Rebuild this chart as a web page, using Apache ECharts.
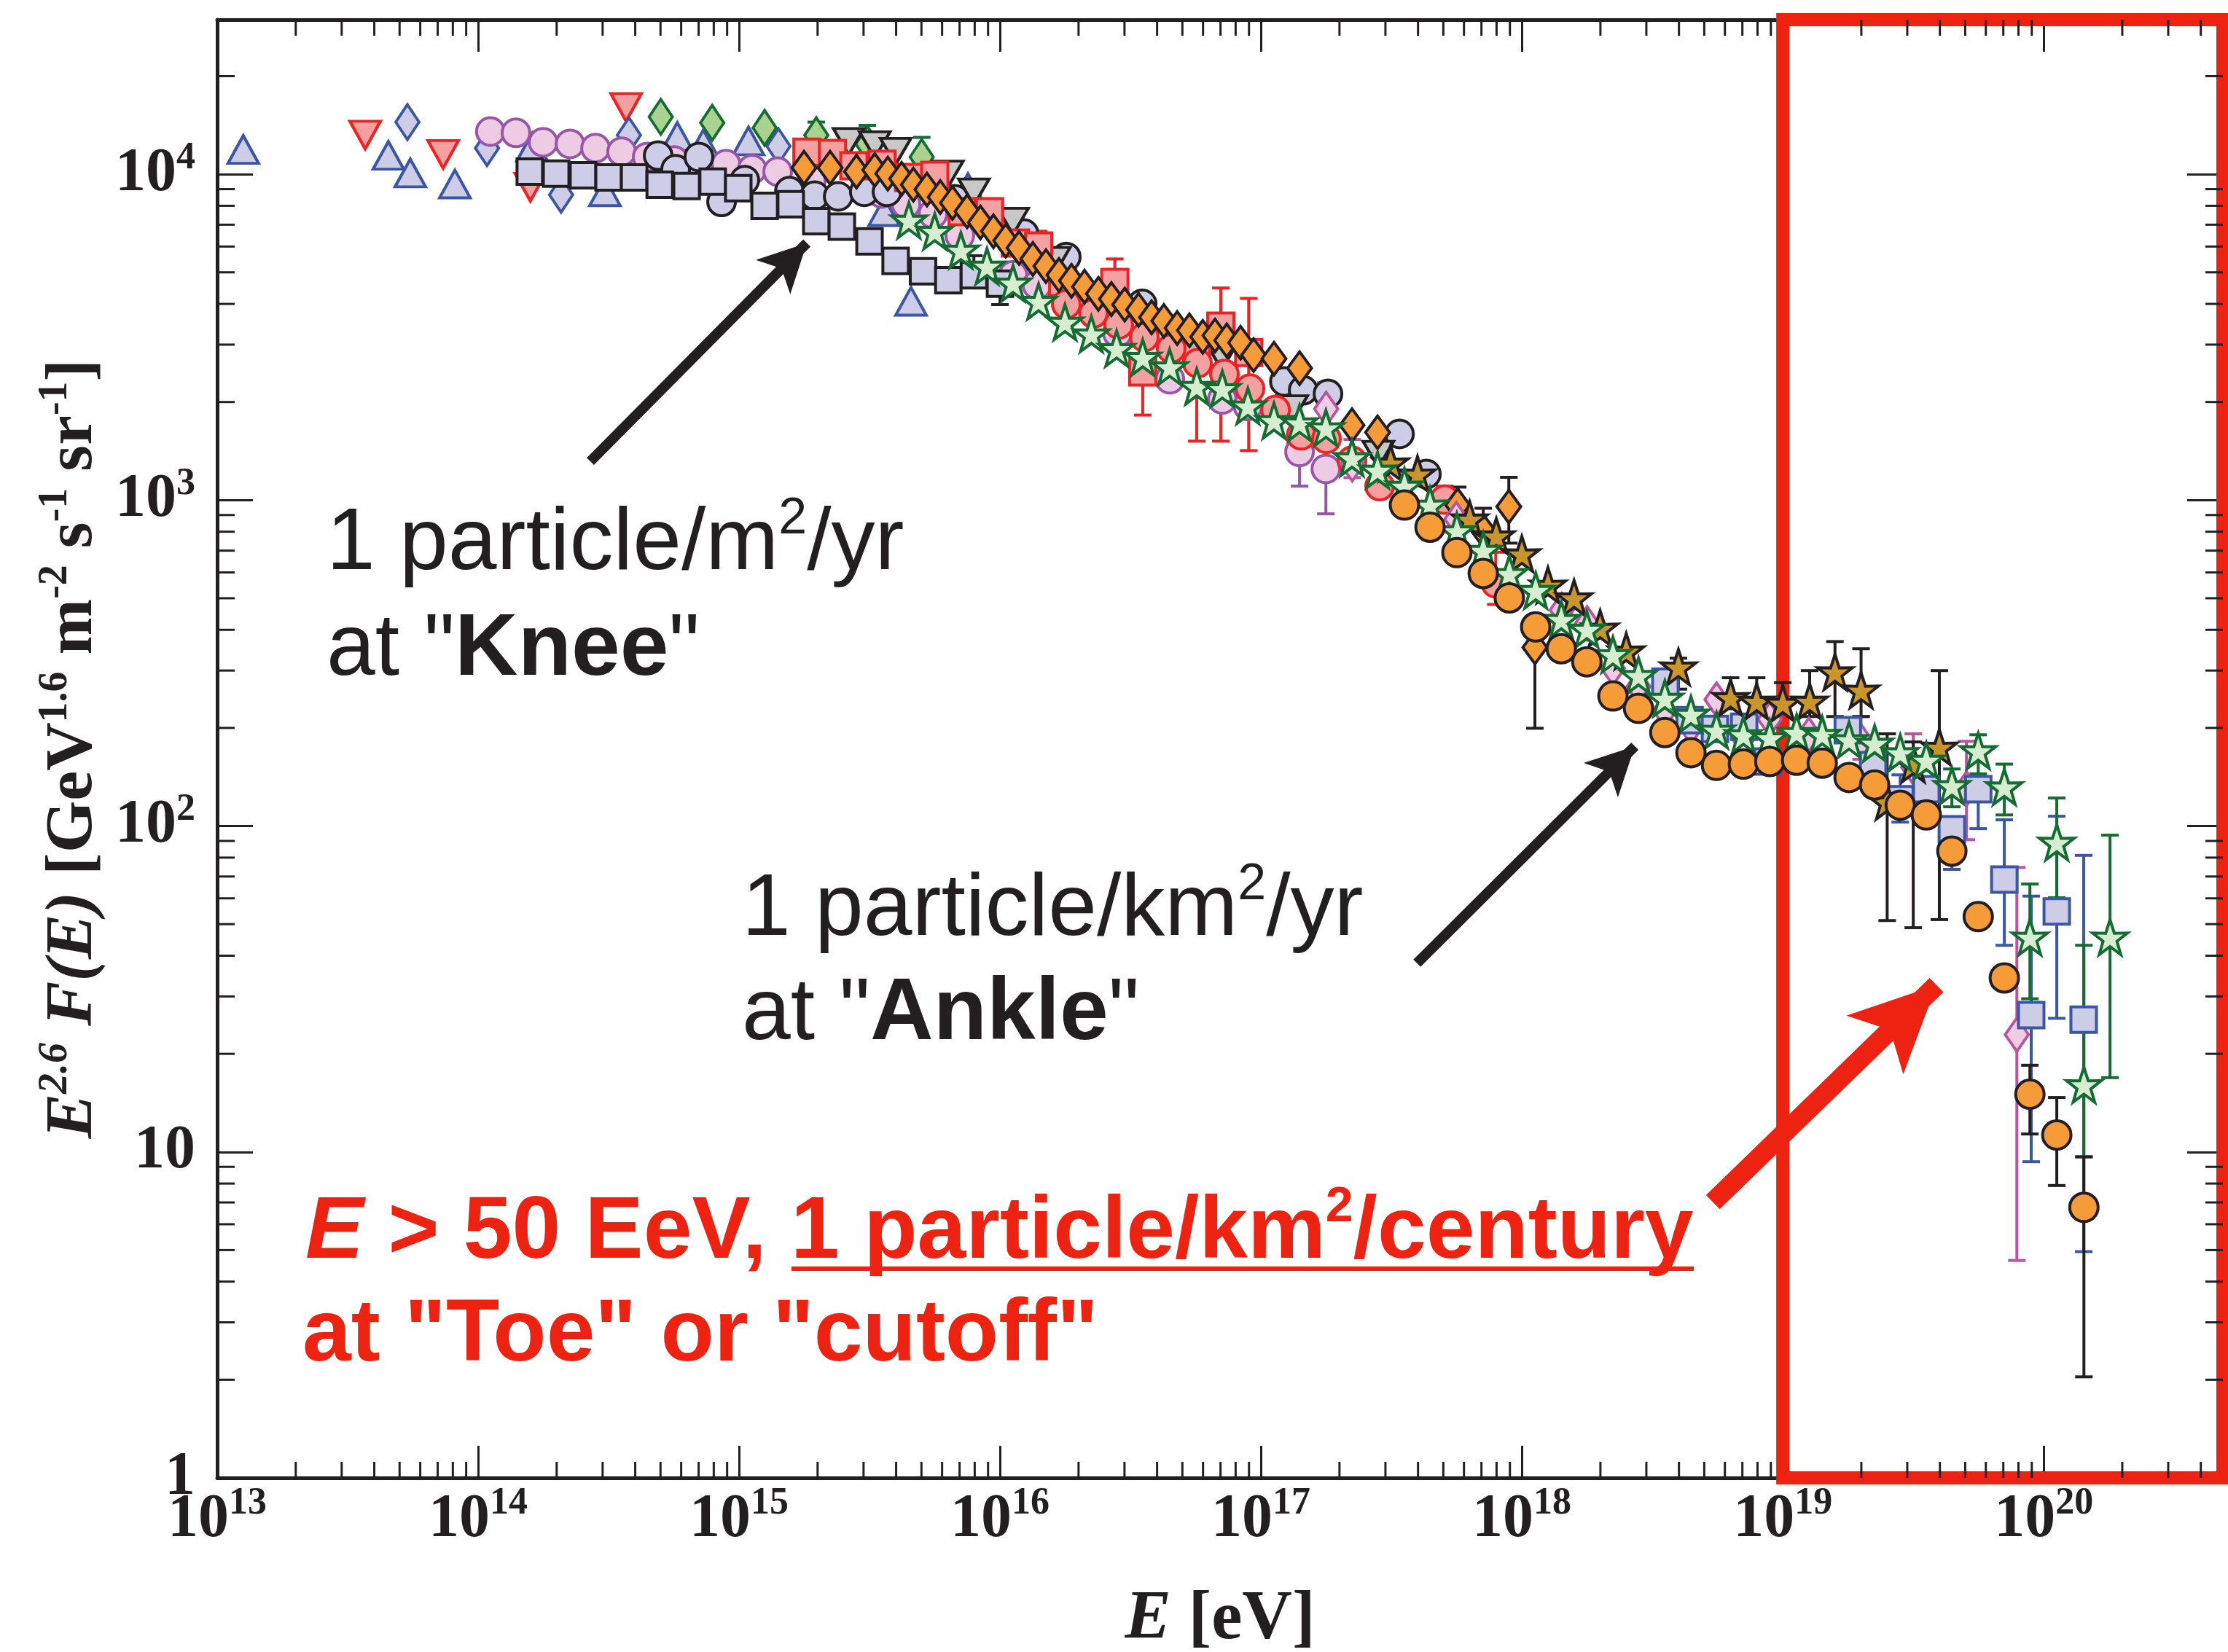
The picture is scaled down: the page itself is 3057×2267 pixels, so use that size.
<!DOCTYPE html>
<html>
<head>
<meta charset="utf-8">
<title>Cosmic ray energy spectrum</title>
<script src="https://cdn.jsdelivr.net/npm/echarts@6.0.0/dist/echarts.min.js"></script>
<style>
html, body { margin: 0; padding: 0; background: #fff; }
#chart { width: 3057px; height: 2267px; }
</style>
</head>
<body>
<div id="chart"></div>
<script>
// axis ranges and tick decades
const xMin = 1e13, xMax = 4.86e20, yMin = 1, yMax = 2.98e4;
const xDecades = [13, 14, 15, 16, 17, 18, 19, 20];
const yDecades = [0, 1, 2, 3, 4];
const minorMult = [2, 3, 4, 5, 6, 7, 8, 9];

// points: [log10 E(eV), log10 E^2.6 F(E)]
const triUpBlue = [[13.10, 4.076], [13.656, 4.058], [13.740, 4.004], [13.911, 3.970], [14.207, 4.083], [14.486, 3.946],
  [14.763, 4.116], [14.863, 4.093], [15.036, 4.102], [15.556, 3.885], [15.659, 3.610], [15.877, 3.959]];
const triDownRed = [[13.567, 4.12], [13.866, 4.061], [14.20, 3.96], [14.567, 4.205]];
const diamondBlue = [[13.729, 4.160], [14.034, 4.080], [14.318, 3.937], [14.578, 4.120], [15.151, 4.086]];
const circlePink = [[14.047, 4.131], [14.145, 4.127], [14.249, 4.098], [14.352, 4.093], [14.450, 4.080], [14.550, 4.069],
  [14.648, 4.053], [14.751, 4.042], [14.85, 4.035], [14.95, 4.031], [15.050, 4.015], [15.148, 4.008], [15.277, 3.981],
  [15.547, 3.941], [15.64, 3.908], [15.743, 3.878], [15.846, 3.812], [16.05, 3.69], [16.142, 3.66], [16.45, 3.512],
  [16.651, 3.371], [16.852, 3.309], [16.95, 3.289], [17.148, 3.148], [17.249, 3.096]];
const circlePinkErr = [[17.148, 3.043, 3.20], [17.249, 2.958, 3.36]];
const circleLav = [[14.69, 4.057], [14.757, 4.015], [14.846, 4.053], [14.933, 3.915], [15.022, 3.982], [15.193, 3.948],
  [15.29, 3.934], [15.38, 3.932], [15.48, 3.946], [15.567, 3.946], [15.827, 3.923], [16.092, 3.818], [16.254, 3.746],
  [16.545, 3.602], [17.09, 3.364], [17.162, 3.337], [17.257, 3.326], [17.531, 3.203], [17.634, 3.08]];
const squareLav = [[14.198, 4.008], [14.299, 4.002], [14.402, 3.997], [14.500, 3.990], [14.598, 3.990], [14.696, 3.968],
  [14.799, 3.964], [14.899, 3.977], [14.997, 3.957], [15.098, 3.903], [15.198, 3.908], [15.296, 3.856], [15.394, 3.839],
  [15.50, 3.794], [15.60, 3.734], [15.705, 3.702], [15.802, 3.675], [15.90, 3.69], [16.0, 3.664]];
const squareLavErr = [[15.90, 3.66, 3.75], [16.0, 3.60, 3.70]];
const diamondGreen = [[14.70, 4.176], [14.897, 4.158], [15.098, 4.142], [15.296, 4.12], [15.492, 4.093], [15.70, 4.053]];
const diamondGreenErr = [[15.296, 4.12, 4.16], [15.492, 4.093, 4.15], [15.70, 4.053, 4.113]];
const triDownGray = [[15.42, 4.10], [15.52, 4.09], [15.60, 4.07], [15.80, 4.00], [15.90, 3.945], [16.05, 3.855],
  [16.21, 3.735], [16.85, 3.44], [17.12, 3.28], [17.45, 3.14]];
const squareRed = [[15.26, 4.068], [15.358, 4.064], [15.44, 4.026], [15.548, 4.031], [15.65, 3.99], [15.75, 3.997],
  [15.855, 3.885], [15.96, 3.885], [16.059, 3.789], [16.148, 3.78], [16.24, 3.668], [16.44, 3.668], [16.547, 3.393],
  [16.754, 3.46], [16.846, 3.534], [16.953, 3.453]];
const squareRedErr = [[16.148, 3.74, 3.825], [16.44, 3.49, 3.74], [16.547, 3.261, 3.5], [16.754, 3.181, 3.5],
  [16.846, 3.181, 3.651], [16.953, 3.152, 3.619]];
const circleRed = [[16.254, 3.601], [16.358, 3.573], [16.455, 3.539], [16.553, 3.50], [16.656, 3.465], [16.757, 3.42],
  [16.86, 3.387], [16.958, 3.342], [17.056, 3.277], [17.154, 3.199], [17.251, 3.188], [17.349, 3.121], [17.455, 3.043],
  [17.704, 3.002], [17.90, 2.745]];
const circleRedErr = [[17.704, 2.96, 3.043], [17.90, 2.68, 2.84]];
const diamondOrange = [[15.249, 4.020], [15.349, 4.020], [15.450, 4.008], [15.52, 4.013], [15.57, 4.002], [15.623, 3.986],
  [15.668, 3.968], [15.72, 3.953], [15.771, 3.930], [15.818, 3.912], [15.874, 3.886], [15.925, 3.852], [15.975, 3.825],
  [16.022, 3.796], [16.073, 3.774], [16.126, 3.740], [16.176, 3.718], [16.226, 3.691], [16.274, 3.673], [16.324, 3.655],
  [16.377, 3.633], [16.427, 3.617], [16.478, 3.600], [16.531, 3.584], [16.581, 3.561], [16.628, 3.550], [16.679, 3.528],
  [16.726, 3.521], [16.777, 3.501], [16.824, 3.505], [16.869, 3.490], [16.922, 3.483], [16.972, 3.445], [17.05, 3.434],
  [17.148, 3.405], [17.349, 3.230], [17.447, 3.208], [17.754, 2.985], [17.852, 2.906], [17.95, 2.98], [18.05, 2.548]];
const diamondOrangeErr = [[17.754, 2.95, 3.04], [17.852, 2.85, 2.975], [17.95, 2.868, 3.07], [18.05, 2.30, 2.634]];
const diamondPink = [[17.25, 3.28], [17.35, 3.11], [17.749, 2.942], [18.153, 2.663], [18.25, 2.622], [18.349, 2.484],
  [18.447, 2.428], [18.548, 2.354], [18.648, 2.303], [18.746, 2.388], [18.849, 2.27], [18.95, 2.328], [19.1, 2.28],
  [19.30, 2.26], [19.50, 2.18], [19.704, 2.115], [19.897, 1.36]];
const diamondPinkErr = [[17.35, 3.069, 3.186], [19.30, 2.205, 2.336], [19.50, 2.085, 2.283], [19.704, 1.958, 2.26],
  [19.897, 0.667, 1.873]];
const squareBlue = [[18.55, 2.443], [18.643, 2.325], [18.74, 2.298], [18.852, 2.305], [18.941, 2.198], [19.249, 2.294],
  [19.346, 2.187], [19.45, 2.082], [19.55, 2.113], [19.648, 1.99], [19.749, 2.113], [19.849, 1.836], [19.952, 1.42],
  [20.05, 1.738], [20.153, 1.406]];
const squareBlueErr = [[19.45, 2.012, 2.157], [19.648, 1.867, 2.023], [19.749, 1.992, 2.146], [19.849, 1.634, 2.019],
  [19.952, 0.97, 1.785], [20.05, 1.41, 2.03], [20.153, 0.694, 1.91]];
const starGold = [[17.497, 3.114], [17.60, 3.08], [17.80, 2.942], [17.902, 2.89], [18.0, 2.835], [18.10, 2.739],
  [18.20, 2.70], [18.30, 2.607], [18.40, 2.537], [18.60, 2.488], [18.80, 2.394], [18.90, 2.383], [19.0, 2.377],
  [19.103, 2.383], [19.20, 2.473], [19.30, 2.417], [19.40, 2.075], [19.50, 2.19], [19.60, 2.242]];
const starGoldErr = [[18.60, 2.42, 2.515], [18.80, 2.36, 2.455], [18.90, 2.36, 2.455], [19.0, 2.35, 2.44],
  [19.103, 2.336, 2.477], [19.20, 2.336, 2.566], [19.30, 2.336, 2.544], [19.40, 1.71, 2.283], [19.50, 1.688, 2.258],
  [19.60, 1.713, 2.477]];
const starGreen = [[15.651, 3.859], [15.75, 3.825], [15.85, 3.767], [15.95, 3.718], [16.05, 3.666], [16.148, 3.610],
  [16.249, 3.546], [16.35, 3.51], [16.447, 3.465], [16.547, 3.438], [16.65, 3.409], [16.754, 3.349], [16.852, 3.342],
  [16.95, 3.289], [17.05, 3.244], [17.148, 3.237], [17.249, 3.222], [17.349, 3.130], [17.447, 3.092], [17.55, 3.043],
  [17.648, 2.985], [17.751, 2.906], [17.852, 2.846], [17.952, 2.775], [18.053, 2.723], [18.151, 2.634], [18.249, 2.604],
  [18.349, 2.526], [18.447, 2.462], [18.548, 2.392], [18.648, 2.343], [18.746, 2.294], [18.849, 2.28], [18.95, 2.271],
  [19.053, 2.287], [19.151, 2.281], [19.254, 2.265], [19.352, 2.254], [19.45, 2.225], [19.55, 2.202], [19.648, 2.124],
  [19.749, 2.231], [19.849, 2.12], [19.947, 1.659], [20.05, 1.95], [20.154, 1.206], [20.254, 1.659]];
const starGreenErr = [[19.648, 2.059, 2.175], [19.749, 2.16, 2.28], [19.849, 2.034, 2.19], [19.947, 1.47, 1.822],
  [20.05, 1.78, 2.086], [20.154, 0.985, 1.634], [20.254, 1.228, 1.972]];
const circleOrange = [[17.55, 2.985], [17.648, 2.917], [17.751, 2.839], [17.852, 2.775], [17.952, 2.70], [18.053, 2.611],
  [18.151, 2.544], [18.249, 2.504], [18.349, 2.399], [18.447, 2.361], [18.548, 2.287], [18.648, 2.225], [18.746, 2.186],
  [18.849, 2.19], [18.95, 2.198], [19.053, 2.202], [19.151, 2.193], [19.254, 2.149], [19.352, 2.126], [19.45, 2.064],
  [19.55, 2.034], [19.648, 1.923], [19.749, 1.722], [19.849, 1.534], [19.947, 1.177], [20.05, 1.052], [20.154, 0.83]];
const circleOrangeErr = [[19.849, 1.51, 1.56], [19.947, 1.055, 1.266], [20.05, 0.897, 1.167], [20.154, 0.31, 0.985]];

// annotation arrows: [tail, tip] in log10 units
const arrowKnee = [[14.430, 3.119], [15.260, 3.789]];
const arrowAnkle = [[17.598, 1.579], [18.433, 2.245]];
const arrowToe = [[18.732, 0.846], [19.589, 1.512]];

const ink = '#231f20';
const red = '#ee2211';
const serif = 'Liberation Serif';
const sans = 'Liberation Sans';
const star = 'path://M50,0 L61.8,35.1 L97.6,34.5 L68.8,56 L79.4,90.5 L50,69.5 L20.6,90.5 L31.2,56 L2.4,34.5 L38.2,35.1 Z';

const toPts = arr => arr.map(p => [10 ** p[0], 10 ** p[1]]);
const toErr = arr => arr.map(p => [10 ** p[0], 10 ** p[1], 10 ** p[2]]);
const toCoord = p => [10 ** p[0], 10 ** p[1]];

function marks (name, data, symbol, size, fill, edge, rotate) {
  return {
    name: name,
    type: 'scatter',
    data: toPts(data),
    symbol: symbol,
    symbolSize: size,
    symbolRotate: rotate || 0,
    itemStyle: { color: fill, borderColor: edge, borderWidth: 4, opacity: 1 },
    emphasis: { disabled: true },
    silent: true
  };
}

function bars (name, data, color) {
  return {
    name: name,
    type: 'custom',
    data: toErr(data),
    encode: { x: 0, y: [1, 2] },
    silent: true,
    renderItem (params, api) {
      const lo = api.coord([api.value(0), api.value(1)]);
      const hi = api.coord([api.value(0), api.value(2)]);
      const st = { stroke: color, lineWidth: 4 };
      return {
        type: 'group',
        children: [
          { type: 'line', shape: { x1: lo[0], y1: lo[1], x2: hi[0], y2: hi[1] }, style: st },
          { type: 'line', shape: { x1: lo[0] - 12, y1: lo[1], x2: lo[0] + 12, y2: lo[1] }, style: st },
          { type: 'line', shape: { x1: hi[0] - 12, y1: hi[1], x2: hi[0] + 12, y2: hi[1] }, style: st }
        ]
      };
    }
  };
}

// minor ticks (2..9 per decade) on all four sides
const xMinor = [];
const yMinor = [];
xDecades.forEach(n => minorMult.forEach(k => { if (k * 10 ** n < xMax) xMinor.push([k * 10 ** n, yMin]); }));
yDecades.forEach(n => minorMult.forEach(k => { if (k * 10 ** n < yMax) yMinor.push([xMin, k * 10 ** n]); }));
const tickStyle = { stroke: ink, lineWidth: 3 };

const minorX = {
  type: 'custom',
  data: xMinor,
  encode: { x: 0, y: 1 },
  silent: true,
  renderItem (params, api) {
    const b = api.coord([api.value(0), yMin]);
    const t = api.coord([api.value(0), yMax]);
    return {
      type: 'group',
      children: [
        { type: 'line', shape: { x1: b[0], y1: b[1], x2: b[0], y2: b[1] - 22 }, style: tickStyle },
        { type: 'line', shape: { x1: t[0], y1: t[1], x2: t[0], y2: t[1] + 22 }, style: tickStyle }
      ]
    };
  }
};
const minorY = {
  type: 'custom',
  data: yMinor,
  encode: { x: 0, y: 1 },
  silent: true,
  renderItem (params, api) {
    const l = api.coord([xMin, api.value(1)]);
    const r = api.coord([xMax, api.value(1)]);
    return {
      type: 'group',
      children: [
        { type: 'line', shape: { x1: l[0], y1: l[1], x2: l[0] + 24, y2: l[1] }, style: tickStyle },
        { type: 'line', shape: { x1: r[0], y1: r[1], x2: r[0] - 24, y2: r[1] }, style: tickStyle }
      ]
    };
  }
};

const labelRich = {
  b: { fontFamily: serif, fontWeight: 'bold', fontSize: 84, lineHeight: 96, color: ink },
  s: { fontFamily: serif, fontWeight: 'bold', fontSize: 52, lineHeight: 44, verticalAlign: 'top', color: ink }
};

function powLabel (v, isY) {
  const e = Math.log10(v);
  const n = Math.round(e);
  if (Math.abs(e - n) > 1e-6) return '';
  if (isY && n === 0) return '{b|1}';
  if (isY && n === 1) return '{b|10}';
  return '{b|10}{s|' + n + '}';
}

function logAxis (pos, min, max, tickLen, showLabel, isY) {
  return {
    type: 'log',
    logBase: 10,
    position: pos,
    min: min,
    max: max,
    axisLine: { show: true, lineStyle: { color: ink, width: 5 } },
    axisTick: { show: true, inside: true, length: tickLen, lineStyle: { color: ink, width: 3 } },
    axisLabel: {
      show: showLabel,
      margin: isY ? 30 : 10,
      rich: labelRich,
      formatter: v => powLabel(v, isY)
    },
    splitLine: { show: false },
    minorTick: { show: false }
  };
}

const xBottom = logAxis('bottom', xMin, xMax, 44, true, false);
xBottom.name = '{i|E}{n| [eV]}';
xBottom.nameLocation = 'middle';
xBottom.nameGap = 145;
xBottom.nameTextStyle = {
  rich: {
    i: { fontFamily: serif, fontWeight: 'bold', fontStyle: 'italic', fontSize: 95, lineHeight: 100, color: ink },
    n: { fontFamily: serif, fontWeight: 'bold', fontSize: 95, lineHeight: 100, color: ink }
  }
};
const yLeft = logAxis('left', yMin, yMax, 49, true, true);
yLeft.name = '{i|E}{si|2.6}{i| F(E)}{n| [GeV}{s|1.6}{n| m}{s|-2}{n| s}{s|-1}{n| sr}{s|-1}{n|]}';
yLeft.nameLocation = 'middle';
yLeft.nameRotate = 90;
yLeft.nameGap = 145;
yLeft.nameTextStyle = {
  rich: {
    i: { fontFamily: serif, fontWeight: 'bold', fontStyle: 'italic', fontSize: 92, lineHeight: 104, color: ink },
    n: { fontFamily: serif, fontWeight: 'bold', fontSize: 92, lineHeight: 104, color: ink },
    s: { fontFamily: serif, fontWeight: 'bold', fontSize: 56, lineHeight: 50, verticalAlign: 'top', color: ink },
    si: { fontFamily: serif, fontWeight: 'bold', fontStyle: 'italic', fontSize: 56, lineHeight: 50, verticalAlign: 'top', color: ink }
  }
};

const series = [
  minorX,
  minorY,
  marks('triUpBlue', triUpBlue, 'triangle', [42, 38], '#cdcde8', '#3a56a5'),
  marks('triDownRed', triDownRed, 'triangle', [42, 38], '#f4a0a0', '#ee2222', 180),
  marks('diamondBlue', diamondBlue, 'diamond', [32, 48], '#cdcde8', '#3a56a5'),
  bars('circlePinkErr', circlePinkErr, '#9856aa'),
  marks('circlePink', circlePink, 'circle', 38, '#edcce3', '#9856aa'),
  marks('circleLav', circleLav, 'circle', 38, '#cdcde8', ink),
  bars('squareLavErr', squareLavErr, ink),
  marks('squareLav', squareLav, 'rect', 35, '#cdcde8', ink),
  bars('diamondGreenErr', diamondGreenErr, '#156c32'),
  marks('diamondGreen', diamondGreen, 'diamond', [32, 48], '#a9d38f', '#156c32'),
  marks('triDownGray', triDownGray, 'triangle', [42, 36], '#c8c8c8', ink, 180),
  bars('squareRedErr', squareRedErr, '#ee2222'),
  marks('squareRed', squareRed, 'rect', 36, '#f4a0a0', '#ee2222'),
  bars('circleRedErr', circleRedErr, '#ee2222'),
  marks('circleRed', circleRed, 'circle', 38, '#f4a0a0', '#ee2222'),
  bars('diamondOrangeErr', diamondOrangeErr, ink),
  marks('diamondOrange', diamondOrange, 'diamond', [33, 45], '#f59b38', ink),
  bars('diamondPinkErr', diamondPinkErr, '#b8559f'),
  marks('diamondPink', diamondPink, 'diamond', [32, 46], '#f0cde3', '#b8559f'),
  bars('squareBlueErr', squareBlueErr, '#3a56a5'),
  marks('squareBlue', squareBlue, 'rect', 35, '#cdcde8', '#3a56a5'),
  bars('starGoldErr', starGoldErr, ink),
  marks('starGold', starGold, star, 48, '#c9962b', ink),
  bars('starGreenErr', starGreenErr, '#146c32'),
  marks('starGreen', starGreen, star, 48, '#d6edcf', '#146c32'),
  bars('circleOrangeErr', circleOrangeErr, ink),
  marks('circleOrange', circleOrange, 'circle', 39, '#f59b38', ink),
  {
    name: 'blackArrows',
    type: 'scatter',
    data: [],
    clip: false,
    silent: true,
    markLine: {
      silent: true,
      animation: false,
      symbol: ['none', 'arrow'],
      symbolSize: [50, 66],
      label: { show: false },
      lineStyle: { color: ink, width: 14, type: 'solid' },
      data: [
        [{ coord: toCoord(arrowKnee[0]) }, { coord: toCoord(arrowKnee[1]) }],
        [{ coord: toCoord(arrowAnkle[0]) }, { coord: toCoord(arrowAnkle[1]) }]
      ]
    }
  },
  {
    name: 'redBox',
    type: 'scatter',
    data: [],
    clip: false,
    silent: true,
    markArea: {
      silent: true,
      animation: false,
      itemStyle: { color: 'rgba(0,0,0,0)', borderColor: red, borderWidth: 18 },
      data: [[{ coord: [1e19, yMin] }, { coord: [xMax, yMax] }]]
    },
    markLine: {
      silent: true,
      animation: false,
      symbol: ['none', 'arrow'],
      symbolSize: [84, 118],
      label: { show: false },
      lineStyle: { color: red, width: 27, type: 'solid' },
      data: [[{ coord: toCoord(arrowToe[0]) }, { coord: toCoord(arrowToe[1]) }]]
    }
  }
];

const blackRich = {
  n: { fontFamily: sans, fontSize: 120, lineHeight: 140, fill: ink },
  b: { fontFamily: sans, fontWeight: 'bold', fontSize: 120, lineHeight: 140, fill: ink },
  s: { fontFamily: sans, fontSize: 70, lineHeight: 76, verticalAlign: 'top', fill: ink }
};
const redRich = {
  n: { fontFamily: sans, fontWeight: 'bold', fontSize: 120, lineHeight: 140, fill: red },
  i: { fontFamily: sans, fontWeight: 'bold', fontStyle: 'italic', fontSize: 120, lineHeight: 140, fill: red },
  s: { fontFamily: sans, fontWeight: 'bold', fontSize: 68, lineHeight: 76, verticalAlign: 'top', fill: red }
};
function note (x, y, text, rich) {
  return { type: 'text', x: x, y: y, z: 100, silent: true, style: { text: text, rich: rich, verticalAlign: 'middle', align: 'left' } };
}

const chart = echarts.init(document.getElementById('chart'), null, { renderer: 'canvas' });
chart.setOption({
  animation: false,
  backgroundColor: '#ffffff',
  grid: { left: 298, right: 7, top: 27, bottom: 239, containLabel: false, outerBoundsMode: 'none' },
  xAxis: [xBottom, logAxis('top', xMin, xMax, 44, false, false)],
  yAxis: [yLeft, logAxis('right', yMin, yMax, 49, false, true)],
  series: series,
  graphic: [
    note(448, 748, '{n|1 particle/m}{s|2}{n|/yr}', blackRich),
    note(448, 893, '{n|at "}{b|Knee}{n|"}', blackRich),
    note(1018, 1250, '{n|1 particle/km}{s|2}{n|/yr}', blackRich),
    note(1018, 1393, '{n|at "}{b|Ankle}{n|"}', blackRich),
    note(419, 1693, '{i|E}{n| > 50 EeV, 1 particle/km}{s|2}{n|/century}', redRich),
    note(415, 1834, '{n|at "Toe" or "cutoff"}', redRich),
    { type: 'line', z: 100, silent: true, shape: { x1: 1086, y1: 1741, x2: 2324, y2: 1741 }, style: { stroke: red, lineWidth: 6 } }
  ]
});
</script>
</body>
</html>
